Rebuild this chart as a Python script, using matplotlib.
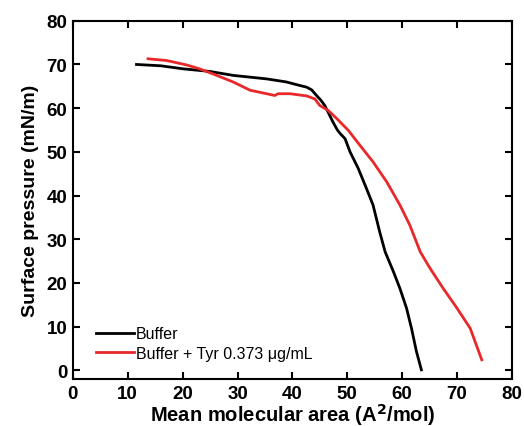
import numpy as np
import matplotlib.pyplot as plt

plt.rcParams['font.family'] = ['Liberation Sans', 'DejaVu Sans']

# Buffer isotherm
buf_area = [11.6, 16.0, 20.1, 25.0, 29.2, 35.3, 38.9, 41.0, 42.6, 43.5, 44.4, 45.2, 45.9,
            46.7, 47.4, 48.2, 48.7, 49.6, 50.5, 52.0, 53.5, 54.7, 55.9, 56.9, 58.4,
            59.6, 60.8, 61.7, 62.6, 63.5]
buf_pres = [70.0, 69.7, 69.0, 68.4, 67.5, 66.7, 66.0, 65.3, 64.8, 64.2, 62.9, 61.8, 60.6,
            58.6, 56.8, 55.0, 54.2, 53.0, 50.0, 46.2, 41.6, 37.8, 31.7, 27.1, 22.6,
            18.7, 14.2, 9.6, 4.3, 0.1]

# Buffer + Tyr isotherm
tyr_area = [13.7, 17.1, 20.7, 23.1, 25.6, 29.2, 32.3, 35.3, 36.8, 37.4, 39.6, 42.6,
            44.1, 45.0, 46.5, 48.1, 50.2, 52.3, 54.7, 57.2, 59.6, 61.4, 63.3, 65.1,
            67.5, 70.0, 72.4, 74.5]
tyr_pres = [71.3, 70.9, 69.9, 69.0, 67.8, 66.0, 64.1, 63.3, 62.9, 63.3, 63.3, 62.8,
            62.1, 60.6, 59.5, 57.6, 54.9, 51.5, 47.7, 43.1, 37.8, 33.2, 27.1, 23.3,
            18.7, 14.2, 9.6, 2.4]

fig = plt.figure(figsize=(5.24, 4.27), dpi=100)
ax = fig.add_axes([0.139, 0.11, 0.838, 0.839])

ax.plot(buf_area, buf_pres, color='black', lw=2, label='Buffer')
ax.plot(tyr_area, tyr_pres, color='#e8282a', lw=2, label='Buffer + Tyr 0.373 \u03bcg/mL')

ax.set_xlim(0, 80)
ax.set_ylim(-2, 80)
ax.set_xticks(np.arange(0, 81, 10))
ax.set_yticks(np.arange(0, 81, 10))
ax.tick_params(direction='in', top=True, right=True, length=5, width=1.5,
               labelsize=13.5, pad=4)
for lab in ax.get_xticklabels() + ax.get_yticklabels():
    lab.set_fontweight('bold')
for sp in ax.spines.values():
    sp.set_linewidth(1.5)

ax.set_xlabel('Mean molecular area (A$^{\\mathbf{2}}$/mol)', fontsize=14.5, fontweight='bold', labelpad=0)
ax.set_ylabel('Surface pressure (mN/m)', fontsize=14, fontweight='bold', labelpad=5)

ax.legend(loc='lower left', bbox_to_anchor=(0.02, 0.01), frameon=False, fontsize=11.5,
          handlelength=2.4, handletextpad=0.1, labelspacing=0.3)

fig.savefig('out.png', dpi=100)
